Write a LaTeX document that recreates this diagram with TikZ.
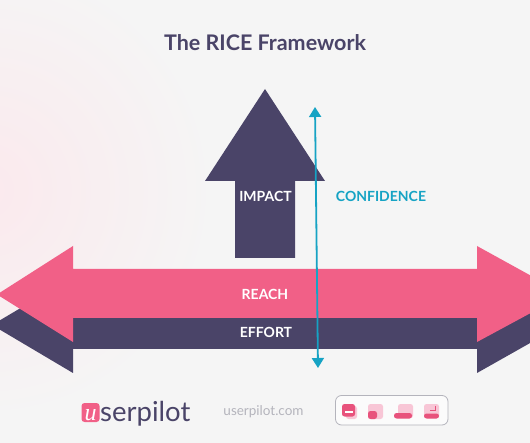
\documentclass[tikz,border=0pt]{standalone}
\usepackage{fontspec}
\setmainfont{Lato}
\newfontfamily\logofont{Liberation Serif}
\usetikzlibrary{arrows.meta}
\definecolor{paper}{HTML}{F5F5F5}
\definecolor{glow}{HTML}{FBE9ED}
\definecolor{navy}{HTML}{4A4468}
\definecolor{rose}{HTML}{F16087}
\definecolor{sky}{HTML}{16A3C4}
\definecolor{ash}{HTML}{B4B4BC}
\definecolor{paleros}{HTML}{F8C6D6}
\definecolor{deeprose}{HTML}{E8527C}
\tikzset{label/.style={text=white,font=\fontsize{14}{16}\selectfont\bfseries,inner sep=0pt},
  arrow/.style={{Triangle[length=10pt,width=12pt]}-{Triangle[length=10pt,width=12pt]},line width=1.8pt,draw=sky},
  back/.style={fill=paleros,rounded corners=2.5pt},
  front/.style={fill=deeprose,rounded corners=2.5pt}}
\begin{document}
\begin{tikzpicture}[x=1pt,y=-1pt]
\useasboundingbox (0,0) rectangle (530,443);
\clip (0,0) rectangle (530,443);
\fill[paper] (0,0) rectangle (530,443);
\shade[inner color=glow,outer color=paper] (-15,190) circle (230);
% shapes
\fill[navy] (265,89)--(325,181)--(295,181)--(295,258)--(235,258)--(235,181)--(205,181)--cycle;
\fill[navy] (-8,325)--(73,277)--(73,300)--(477,300)--(477,277)--(562,325)--(477,373)--(477,349)--(73,349)--(73,373)--cycle;
\fill[rose] (-3,294.5)--(73,246)--(73,269)--(477,269)--(477,246)--(565,294.5)--(477,342)--(477,318)--(73,318)--(73,342)--cycle;
% texts
\node[text=navy,font=\fontsize{21.5}{24}\selectfont\bfseries] (title) at (265,43) {The RICE Framework};
\node[label] (impact) at (265.5,196) {IMPACT};
\node[label] (reach) at (265,294) {REACH};
\node[label] (effort) at (266,332) {EFFORT};
\node[text=sky,font=\fontsize{14}{16}\selectfont\bfseries,inner sep=0pt] (conf) at (381,196) {CONFIDENCE};
\coordinate (top) at (315,107);
\coordinate (bottom) at (318,368);
\draw[arrow] (top)--(bottom);
% footer
\node[fill=rose,rounded corners=3pt,minimum width=18pt,minimum height=19pt,inner sep=0pt] (logo) at (90.5,412.5) {};
\node[text=white,font=\fontsize{24}{25}\logofont\itshape,inner sep=0pt,anchor=base] (logou) at (90.5,420) {u};
\node[text=navy,font=\fontsize{27.5}{28}\selectfont,inner sep=0pt,anchor=base west] (brand) at (100,421.5) {serpilot};
\node[text=ash,font=\fontsize{13.5}{16}\selectfont,inner sep=0pt] (site) at (263.5,411.5) {userpilot.com};
\draw[draw=ash,fill=white!60!paper,line width=.8pt,rounded corners=6pt] (335.5,395.5) rectangle (448,425);
% icons
\fill[back] (346,406) rectangle (357,419);
\fill[front] (342,404) rectangle (355,416.5);
\fill[white] (344.5,411) rectangle (352.5,413);
\fill[back] (368,404) rectangle (383,419);
\fill[front] (368,411) rectangle (377,419);
\fill[back] (398,404) rectangle (413,418);
\fill[front] (394,413) rectangle (412,418.5);
\fill[back] (424,404) rectangle (439,418);
\fill[front] (424,413.5) rectangle (439,418.5);
\draw[deeprose,line width=.6pt] (435,406)--(435,410)--(430,410);
\end{tikzpicture}
\end{document}
